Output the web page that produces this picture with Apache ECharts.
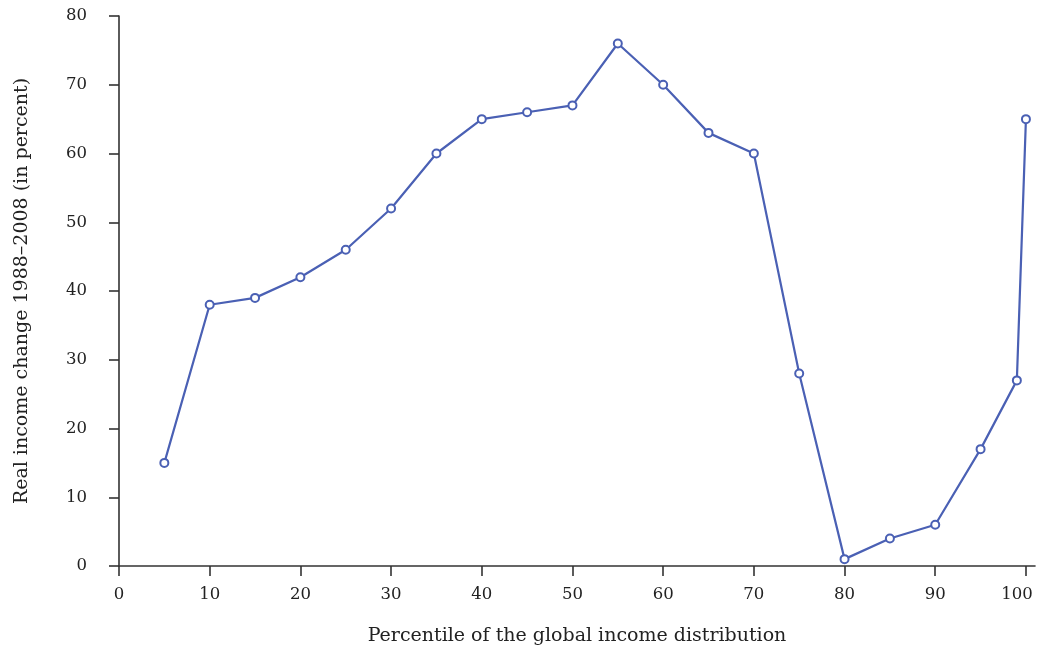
<!DOCTYPE html>
<html>
<head>
<meta charset="utf-8">
<script src="https://cdn.jsdelivr.net/npm/echarts@6/dist/echarts.min.js"></script>
<style>html,body{margin:0;padding:0;background:#fff;}#c{width:1037px;height:650px;}</style>
</head>
<body>
<div id="c"></div>
<script>
const percentiles = [5,10,15,20,25,30,35,40,45,50,55,60,65,70,75,80,85,90,95,99,100];
const incomeChange = [15,38,39,42,46,52,60,65,66,67,76,70,63,60,28,1,4,6,17,27,65];
const xTicks = [0,10,20,30,40,50,60,70,80,90,100];
const yTicks = [0,10,20,30,40,50,60,70,80];
const xTitle = 'Percentile of the global income distribution';
const yTitle = 'Real income change 1988–2008 (in percent)';

const font = 'DejaVu Serif';
const chart = echarts.init(document.getElementById('c'));
chart.setOption({
  animation: false,
  grid: {left: 119, top: 16, width: 916, height: 550, outerBoundsMode: 'none', containLabel: false},
  xAxis: {
    type: 'value', min: 0, max: 101,
    axisLine: {lineStyle: {color: '#333', width: 1.6}},
    axisTick: {length: 10, customValues: xTicks, lineStyle: {color: '#333', width: 1.6}},
    axisLabel: {
      customValues: xTicks, margin: 20, color: '#222', fontFamily: font, fontSize: 16.5,
      formatter: v => v === 100 ? '{r|' + v + '}' : String(v),
      rich: {r: {color: '#222', fontFamily: font, fontSize: 16.5, padding: [0, 18, 0, 0]}}
    },
    splitLine: {show: false},
    name: xTitle, nameLocation: 'middle', nameGap: 61,
    nameTextStyle: {color: '#222', fontFamily: font, fontSize: 19}
  },
  yAxis: {
    type: 'value', min: 0, max: 80, interval: 10,
    axisLine: {show: true, lineStyle: {color: '#333', width: 1.6}},
    axisTick: {show: true, length: 10, lineStyle: {color: '#333', width: 1.6}},
    axisLabel: {customValues: yTicks, margin: 32, color: '#222', fontFamily: font, fontSize: 16.5},
    splitLine: {show: false},
    name: yTitle, nameLocation: 'middle', nameGap: 87, nameRotate: 90,
    nameTextStyle: {color: '#222', fontFamily: font, fontSize: 19}
  },
  series: [{
    type: 'line',
    data: percentiles.map((p, i) => [p, incomeChange[i]]),
    symbol: 'emptyCircle', symbolSize: 8,
    lineStyle: {color: '#4a60b4', width: 2.2},
    itemStyle: {color: '#4a60b4', borderWidth: 2}
  }]
});
</script>
</body>
</html>
